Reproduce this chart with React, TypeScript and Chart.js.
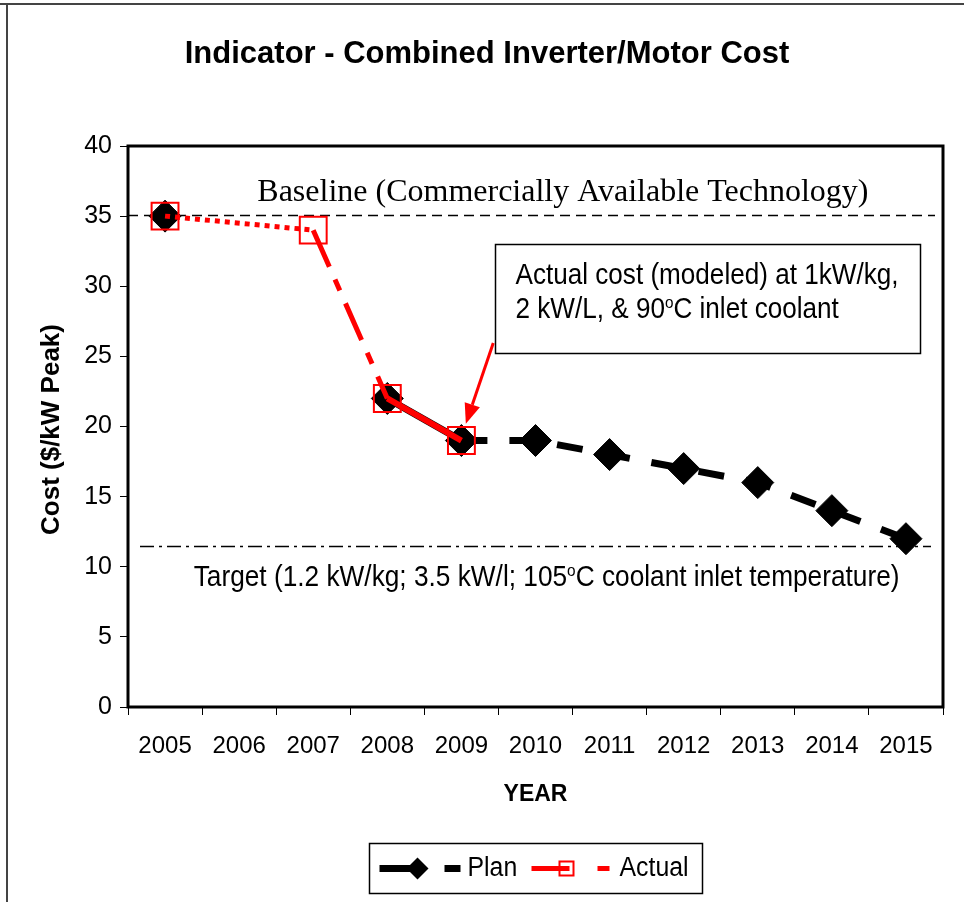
import React, { useEffect, useRef } from 'react';
import { Chart, registerables } from 'chart.js';

Chart.register(...registerables);

// ---------- data ----------
const years = ['2005', '2006', '2007', '2008', '2009', '2010', '2011', '2012', '2013', '2014', '2015'];
const planCost = [35, null, null, 22, 19, 19, 18, 17, 16, 14, 12];
const actualCost = [35, null, 34, 22, 19, null, null, null, null, null, null];
const yMin = 0;
const yMax = 40;
const yStep = 5;

const titleText = 'Indicator - Combined Inverter/Motor Cost';
const xAxisTitle = 'YEAR';
const yAxisTitle = 'Cost ($/kW Peak)';
const planLabel = 'Plan';
const actualLabel = 'Actual';

const baselineValue = 35.1;
const baselineText = 'Baseline (Commercially Available Technology)';
const baselineTextAt = { x: 5.37, y: 36.7 };

const targetValue = 11.5;
const targetTextParts = ['Target (1.2 kW/kg; 3.5 kW/l; 105', 'o', 'C coolant inlet temperature)'];
const targetTextAt = { x: 5.15, y: 9.2 };

const noteLine1 = ['Actual cost (modeled) at 1kW/kg,'];
const noteLine2 = ['2 kW/L, & 90', 'o', 'C inlet coolant'];
const noteBox = { x0: 4.46, x1: 10.19, y0: 33.0, y1: 25.24 };
const noteLineValues = [30.75, 28.3];
const arrowFrom = { x: 4.43, y: 25.95 };
const arrowTo = { x: 4.06, y: 20.2 };

const SANS = 'Liberation Sans, Arial, Helvetica, sans-serif';
const SERIF = 'Liberation Serif, Times New Roman, serif';

// draw text parts; every odd-index part is superscript
function drawRich(ctx: CanvasRenderingContext2D, parts: string[], x: number, y: number, size: number, sx: number, align: 'left' | 'center') {
  ctx.save();
  ctx.textBaseline = 'middle';
  ctx.textAlign = 'left';
  const widths = parts.map((p, i) => {
    ctx.font = `${i % 2 === 1 ? Math.round(size * 0.6) : size}px ${SANS}`;
    return ctx.measureText(p).width;
  });
  const total = widths.reduce((a, b) => a + b, 0) * sx;
  const cx = align === 'center' ? x - total / 2 : x;
  ctx.translate(cx, y);
  ctx.scale(sx, 1);
  let px = 0;
  parts.forEach((p, i) => {
    const sup = i % 2 === 1;
    ctx.font = `${sup ? Math.round(size * 0.6) : size}px ${SANS}`;
    ctx.fillText(p, px, sup ? -size * 0.22 : 0);
    px += widths[i];
  });
  ctx.restore();
}

const decorPlugin = {
  id: 'decor',
  beforeDatasetsDraw(chart: any) {
    const { ctx, chartArea: a, scales } = chart;
    const ys = scales.y;
    ctx.save();
    // baseline dashed line
    const by = Math.round(ys.getPixelForValue(baselineValue)) + 0.5;
    ctx.strokeStyle = '#000';
    ctx.lineWidth = 1.5;
    ctx.setLineDash([10, 6]);
    ctx.beginPath();
    ctx.moveTo(a.left, by);
    ctx.lineTo(a.right - 8, by);
    ctx.stroke();
    // target dash-dot line
    const ty = Math.round(ys.getPixelForValue(targetValue)) + 0.5;
    ctx.setLineDash([14, 5, 3, 5]);
    ctx.beginPath();
    ctx.moveTo(a.left + 12, ty);
    ctx.lineTo(a.right - 12, ty);
    ctx.stroke();
    ctx.setLineDash([]);
    // plot border
    ctx.lineWidth = 3;
    ctx.strokeRect(a.left, a.top, a.right - a.left, a.bottom - a.top);
    ctx.restore();
  },
  afterDraw(chart: any) {
    const { ctx, chartArea: a, scales, width } = chart;
    const xs = scales.x;
    const ys = scales.y;
    ctx.save();

    // outer frame (top and left edges)
    ctx.fillStyle = '#444';
    ctx.fillRect(0, 3, width, 2);
    ctx.fillRect(6, 3, 2, chart.height - 3);
    ctx.fillStyle = '#000';

    // title
    ctx.font = `bold 31px ${SANS}`;
    ctx.textAlign = 'center';
    ctx.textBaseline = 'middle';
    ctx.fillText(titleText, width / 2 + 5, 54);

    // axis titles
    ctx.font = `bold 23px ${SANS}`;
    ctx.fillText(xAxisTitle, (a.left + a.right) / 2, 795);
    ctx.save();
    ctx.translate(52, (a.top + a.bottom) / 2 + 3);
    ctx.rotate(-Math.PI / 2);
    ctx.font = `bold 26px ${SANS}`;
    ctx.fillText(yAxisTitle, 0, 0);
    ctx.restore();

    // baseline label
    ctx.font = `32px ${SERIF}`;
    ctx.textAlign = 'center';
    ctx.fillText(baselineText, xs.getPixelForValue(baselineTextAt.x), ys.getPixelForValue(baselineTextAt.y));

    // target label
    drawRich(ctx, targetTextParts, xs.getPixelForValue(targetTextAt.x), ys.getPixelForValue(targetTextAt.y), 29, 0.905, 'center');

    // note box
    const bx0 = Math.round(xs.getPixelForValue(noteBox.x0)) + 0.5;
    const bx1 = Math.round(xs.getPixelForValue(noteBox.x1)) + 0.5;
    const by0 = Math.round(ys.getPixelForValue(noteBox.y0)) + 0.5;
    const by1 = Math.round(ys.getPixelForValue(noteBox.y1)) + 0.5;
    ctx.fillStyle = '#fff';
    ctx.fillRect(bx0, by0, bx1 - bx0, by1 - by0);
    ctx.strokeStyle = '#000';
    ctx.lineWidth = 1.5;
    ctx.strokeRect(bx0, by0, bx1 - bx0, by1 - by0);
    ctx.fillStyle = '#000';
    drawRich(ctx, noteLine1, bx0 + 20, ys.getPixelForValue(noteLineValues[0]), 29, 0.9, 'left');
    drawRich(ctx, noteLine2, bx0 + 20, ys.getPixelForValue(noteLineValues[1]), 29, 0.9, 'left');

    // arrow
    const ax0 = xs.getPixelForValue(arrowFrom.x);
    const ay0 = ys.getPixelForValue(arrowFrom.y);
    const ax1 = xs.getPixelForValue(arrowTo.x);
    const ay1 = ys.getPixelForValue(arrowTo.y);
    const ang = Math.atan2(ay1 - ay0, ax1 - ax0);
    const headLen = 20;
    const headW = 8;
    const hx = ax1 - Math.cos(ang) * headLen;
    const hy = ay1 - Math.sin(ang) * headLen;
    ctx.strokeStyle = '#f00';
    ctx.fillStyle = '#f00';
    ctx.lineWidth = 3;
    ctx.beginPath();
    ctx.moveTo(ax0, ay0);
    ctx.lineTo(hx, hy);
    ctx.stroke();
    ctx.beginPath();
    ctx.moveTo(ax1, ay1);
    ctx.lineTo(hx + Math.sin(ang) * headW, hy - Math.cos(ang) * headW);
    ctx.lineTo(hx - Math.sin(ang) * headW, hy + Math.cos(ang) * headW);
    ctx.closePath();
    ctx.fill();

    // legend
    const cx = (a.left + a.right) / 2;
    const lw = 333;
    const lh = 50;
    const lx = Math.round(cx - lw / 2) + 0.5;
    const ly = 843.5;
    ctx.fillStyle = '#fff';
    ctx.fillRect(lx, ly, lw, lh);
    ctx.strokeStyle = '#000';
    ctx.lineWidth = 1.5;
    ctx.strokeRect(lx, ly, lw, lh);
    const my = ly + lh / 2;
    // plan sample
    ctx.strokeStyle = '#000';
    ctx.fillStyle = '#000';
    ctx.lineWidth = 7;
    ctx.beginPath();
    ctx.moveTo(lx + 10, my);
    ctx.lineTo(lx + 48, my);
    ctx.stroke();
    const dx = lx + 48;
    ctx.beginPath();
    ctx.moveTo(dx - 11, my);
    ctx.lineTo(dx, my - 11);
    ctx.lineTo(dx + 11, my);
    ctx.lineTo(dx, my + 11);
    ctx.closePath();
    ctx.fill();
    ctx.beginPath();
    ctx.moveTo(lx + 75, my);
    ctx.lineTo(lx + 91, my);
    ctx.stroke();
    ctx.font = `27px ${SANS}`;
    ctx.textAlign = 'left';
    ctx.textBaseline = 'middle';
    ctx.save();
    ctx.translate(lx + 98, my);
    ctx.scale(0.92, 1);
    ctx.fillText(planLabel, 0, 0);
    ctx.restore();
    // actual sample
    ctx.strokeStyle = '#f00';
    ctx.lineWidth = 5;
    ctx.beginPath();
    ctx.moveTo(lx + 162, my);
    ctx.lineTo(lx + 200, my);
    ctx.stroke();
    ctx.lineWidth = 2;
    ctx.strokeRect(lx + 190, my - 7, 14, 14);
    ctx.lineWidth = 5;
    ctx.beginPath();
    ctx.moveTo(lx + 228, my);
    ctx.lineTo(lx + 240, my);
    ctx.stroke();
    ctx.fillStyle = '#000';
    ctx.save();
    ctx.translate(lx + 250, my);
    ctx.scale(0.92, 1);
    ctx.fillText(actualLabel, 0, 0);
    ctx.restore();

    ctx.restore();
  },
};

export default function App() {
  const canvasRef = useRef<HTMLCanvasElement | null>(null);

  useEffect(() => {
    if (!canvasRef.current) return;
    const chart = new Chart(canvasRef.current, {
      type: 'line',
      data: {
        labels: years,
        datasets: [
          {
            label: planLabel,
            data: planCost,
            borderColor: '#000',
            backgroundColor: '#000',
            borderWidth: 7,
            borderCapStyle: 'butt',
            pointStyle: 'rectRot',
            pointRadius: 16,
            pointBackgroundColor: '#000',
            pointBorderColor: '#000',
            pointBorderWidth: 1,
            spanGaps: false,
            order: 2,
            segment: {
              borderDash: (ctx: any) => (ctx.p1DataIndex === 4 ? [] : [26, 22]),
            },
          } as any,
          {
            label: actualLabel,
            data: actualCost,
            borderColor: '#f00',
            backgroundColor: '#f00',
            borderWidth: 5,
            borderCapStyle: 'butt',
            pointStyle: 'rect',
            pointRadius: 19,
            pointBackgroundColor: 'rgba(0,0,0,0)',
            pointBorderColor: '#f00',
            pointBorderWidth: 2,
            spanGaps: true,
            order: 1,
            segment: {
              borderDash: (ctx: any) =>
                ctx.p1DataIndex === 2 ? [5, 5] : ctx.p1DataIndex === 3 ? [40, 14, 12, 14] : [],
              borderWidth: (ctx: any) => (ctx.p1DataIndex === 4 ? 6 : 5),
            },
          } as any,
        ],
      },
      options: {
        responsive: false,
        maintainAspectRatio: false,
        animation: false,
        events: [],
        layout: { padding: { left: 0, right: 20, top: 146, bottom: 135 } },
        plugins: {
          legend: { display: false },
          tooltip: { enabled: false },
          title: { display: false },
        },
        scales: {
          x: {
            type: 'category',
            offset: true,
            grid: { offset: true, drawOnChartArea: false, tickLength: 8, color: '#000', lineWidth: 1 },
            border: { display: false },
            ticks: { font: { size: 24, family: SANS }, color: '#000', padding: 17, maxRotation: 0, autoSkip: false },
            afterFit: (s: any) => {
              s.height = 60;
            },
          },
          y: {
            min: yMin,
            max: yMax,
            grid: { drawOnChartArea: false, tickLength: 8, color: '#000', lineWidth: 1 },
            border: { display: false },
            ticks: { stepSize: yStep, font: { size: 25, family: SANS }, color: '#000', padding: 8 },
            afterFit: (s: any) => {
              s.width = 128;
            },
          },
        },
      } as any,
      plugins: [decorPlugin],
    });
    return () => chart.destroy();
  }, []);

  return (
    <div style={{ position: 'absolute', left: 0, top: 0, width: 964, height: 902, background: '#fff' }}>
      <canvas ref={canvasRef} width={964} height={902} style={{ width: 964, height: 902, display: 'block' }} />
    </div>
  );
}
